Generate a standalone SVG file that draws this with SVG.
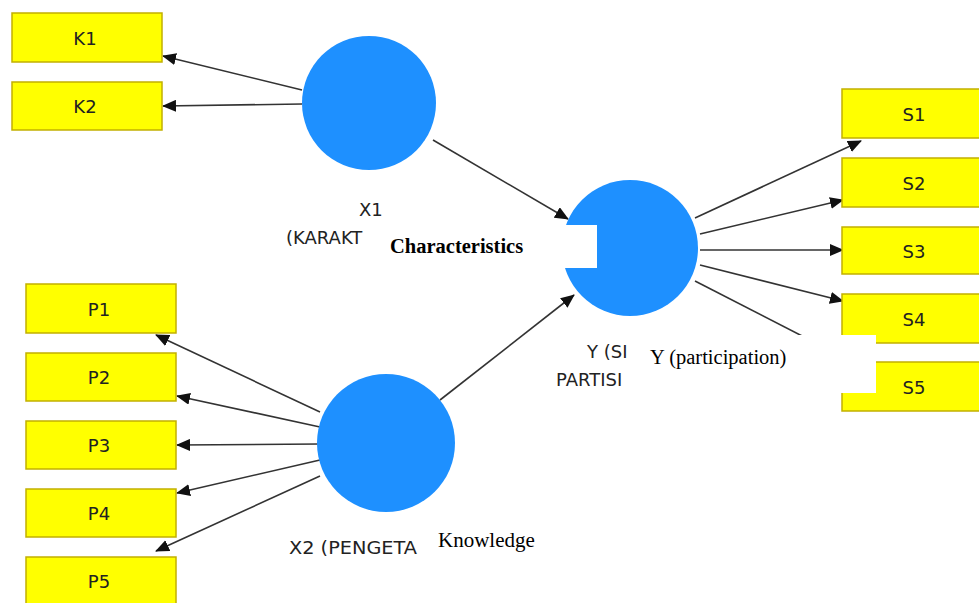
<svg xmlns="http://www.w3.org/2000/svg" width="979" height="603" viewBox="0 0 979 603">
<style>
.box{fill:#ffff00;stroke:#c2b000;stroke-width:1.5}
.lv{fill:#1e90ff}
.bl{font-family:"DejaVu Sans",sans-serif;font-size:18px;fill:#222;text-anchor:middle}
.nl{font-family:"DejaVu Sans",sans-serif;font-size:18px;fill:#222}
.ln{stroke:#333;stroke-width:1.6;fill:none;marker-end:url(#ah)}
.cover{fill:#fff}
.tr{font-family:"Liberation Serif",serif;fill:#000}
</style>
<defs>
<marker id="ah" markerUnits="userSpaceOnUse" markerWidth="14" markerHeight="12" refX="13" refY="6" orient="auto">
<path d="M0,0 L14,6 L0,12 z" fill="#111"/>
</marker>
</defs>
<rect width="979" height="603" fill="#fff"/>
<g id="connectors">
<line class="ln" x1="302" y1="90" x2="163" y2="56"/>
<line class="ln" x1="302" y1="104" x2="163" y2="106"/>
<line class="ln" x1="433" y1="140" x2="568" y2="219"/>
<line class="ln" x1="440" y1="400" x2="574" y2="295"/>
<line class="ln" x1="320" y1="412" x2="156" y2="335"/>
<line class="ln" x1="320" y1="427" x2="177" y2="396"/>
<line class="ln" x1="320" y1="444" x2="177" y2="445"/>
<line class="ln" x1="320" y1="460" x2="177" y2="493"/>
<line class="ln" x1="320" y1="476" x2="156" y2="551"/>
<line class="ln" x1="695" y1="218" x2="861" y2="141"/>
<line class="ln" x1="700" y1="234" x2="843" y2="200"/>
<line class="ln" x1="700" y1="250" x2="843" y2="250"/>
<line class="ln" x1="700" y1="265" x2="843" y2="301"/>
<line class="ln" x1="695" y1="281" x2="845" y2="358"/>
</g>
<g id="K1"><rect class="box" x="12" y="13" width="150" height="49"/><text class="bl" x="85" y="45">K1</text></g>
<g id="K2"><rect class="box" x="12" y="82" width="150" height="48"/><text class="bl" x="85" y="113">K2</text></g>
<g id="P1"><rect class="box" x="26" y="284" width="150" height="49"/><text class="bl" x="99" y="316">P1</text></g>
<g id="P2"><rect class="box" x="26" y="353" width="150" height="48"/><text class="bl" x="99" y="384">P2</text></g>
<g id="P3"><rect class="box" x="26" y="421" width="150" height="48"/><text class="bl" x="99" y="452">P3</text></g>
<g id="P4"><rect class="box" x="26" y="489" width="150" height="48"/><text class="bl" x="99" y="520">P4</text></g>
<g id="P5"><rect class="box" x="26" y="557" width="150" height="60"/><text class="bl" x="99" y="588">P5</text></g>
<g id="S1"><rect class="box" x="842" y="89" width="150" height="49"/><text class="bl" x="914" y="121">S1</text></g>
<g id="S2"><rect class="box" x="842" y="158" width="150" height="49"/><text class="bl" x="914" y="190">S2</text></g>
<g id="S3"><rect class="box" x="842" y="227" width="150" height="47"/><text class="bl" x="914" y="258">S3</text></g>
<g id="S4"><rect class="box" x="842" y="294" width="150" height="49"/><text class="bl" x="914" y="326">S4</text></g>
<g id="S5"><rect class="box" x="842" y="362" width="150" height="49"/><text class="bl" x="914" y="394">S5</text></g>
<g id="X1"><circle class="lv" cx="369" cy="103" r="67"/><text class="nl" x="359" y="216">X1</text><text class="nl" x="286" y="244">(KARAKT</text></g>
<g id="X2"><circle class="lv" cx="386" cy="443" r="69"/><text class="nl" x="289" y="554" textLength="128" lengthAdjust="spacingAndGlyphs">X2 (PENGETA</text></g>
<g id="Y"><circle class="lv" cx="630" cy="248" r="68"/><text class="nl" x="587" y="358">Y (SI</text><text class="nl" x="556" y="386">PARTISI</text></g>
<g id="overlay1"><rect class="cover" x="363" y="225" width="234" height="43"/><text class="tr" x="390" y="253" font-size="20.5" font-weight="bold">Characteristics</text></g>
<g id="overlay2"><rect class="cover" x="630" y="335" width="246" height="58"/><text class="tr" x="650" y="364" font-size="20.5">Y (participation)</text></g>
<g id="overlay3"><text class="tr" x="438" y="547" font-size="21">Knowledge</text></g>
</svg>
